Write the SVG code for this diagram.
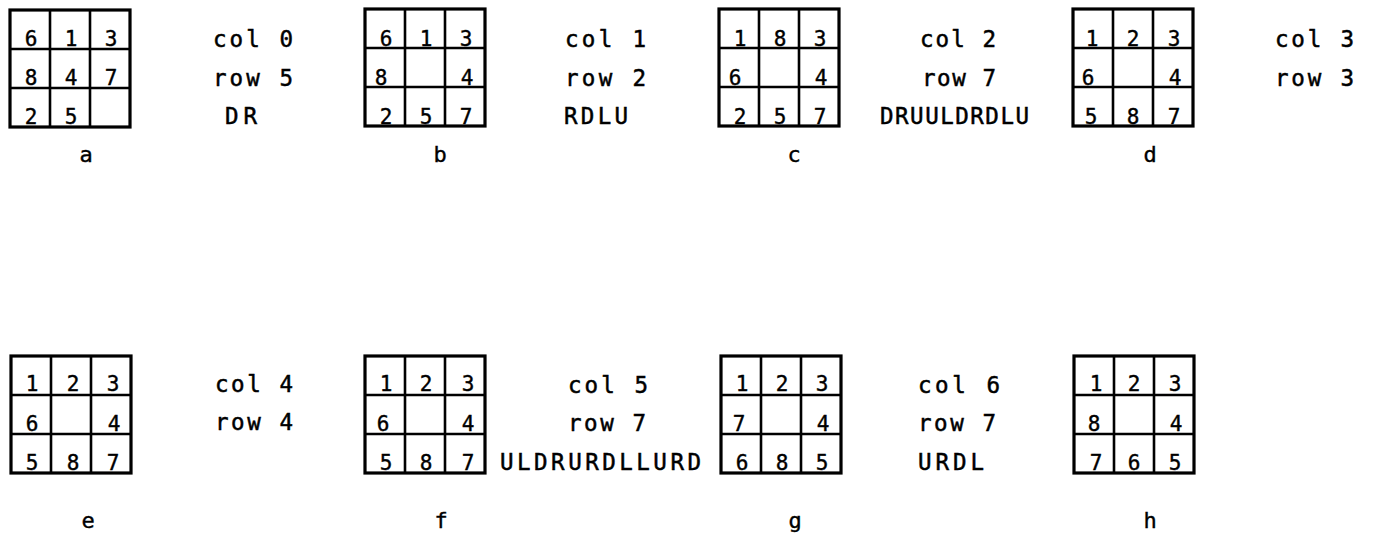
<svg xmlns="http://www.w3.org/2000/svg" xmlns:xlink="http://www.w3.org/1999/xlink" width="1373" height="543" viewBox="0 0 1373 543">
<style>
.frame{fill:none;stroke:#000;stroke-width:3.2}
.inner{stroke:#000;stroke-width:2.6}
.d{font-family:"DejaVu Sans Mono","Liberation Mono",monospace;font-size:21px;fill:#000;stroke:#000;stroke-width:0.4;text-anchor:middle}
.t{font-family:"DejaVu Sans Mono","Liberation Mono",monospace;font-size:22.5px;fill:#000;stroke:#000;stroke-width:0.5}
.l{font-family:"DejaVu Sans Mono","Liberation Mono",monospace;font-size:22px;fill:#000;stroke:#000;stroke-width:0.4;text-anchor:middle}
</style>
<defs>
<g id="grid">
<rect class="frame" x="0" y="0" width="120" height="117"/>
<line class="inner" x1="40" y1="0" x2="40" y2="117"/>
<line class="inner" x1="80" y1="0" x2="80" y2="117"/>
<line class="inner" x1="0" y1="39" x2="120" y2="39"/>
<line class="inner" x1="0" y1="78" x2="120" y2="78"/>
</g>
</defs>
<rect width="1373" height="543" fill="#fff"/>

<g id="node-a" transform="translate(10,10)">
<use xlink:href="#grid"/>
<text class="d" x="21" y="36">6</text><text class="d" x="61" y="36">1</text><text class="d" x="101" y="36">3</text>
<text class="d" x="21" y="75">8</text><text class="d" x="61" y="75">4</text><text class="d" x="101" y="75">7</text>
<text class="d" x="21" y="114">2</text><text class="d" x="61" y="114">5</text>
</g>
<g id="text-a">
<text class="t" x="213" y="47" textLength="80" lengthAdjust="spacing">col 0</text>
<text class="t" x="213" y="86" textLength="80" lengthAdjust="spacing">row 5</text>
<text class="t" x="225" y="124" textLength="32" lengthAdjust="spacing">DR</text>
<text class="l" x="86" y="162">a</text>
</g>

<g id="node-b" transform="translate(365,9)">
<use xlink:href="#grid"/>
<text class="d" x="21" y="37">6</text><text class="d" x="61" y="37">1</text><text class="d" x="101" y="37">3</text>
<text class="d" x="16" y="76">8</text><text class="d" x="102" y="76">4</text>
<text class="d" x="21" y="115">2</text><text class="d" x="61" y="115">5</text><text class="d" x="101" y="115">7</text>
</g>
<g id="text-b">
<text class="t" x="565" y="47" textLength="81" lengthAdjust="spacing">col 1</text>
<text class="t" x="565" y="86" textLength="81" lengthAdjust="spacing">row 2</text>
<text class="t" x="564" y="124" textLength="64" lengthAdjust="spacing">RDLU</text>
<text class="l" x="440" y="162">b</text>
</g>

<g id="node-c" transform="translate(719,9)">
<use xlink:href="#grid"/>
<text class="d" x="21" y="37">1</text><text class="d" x="61" y="37">8</text><text class="d" x="101" y="37">3</text>
<text class="d" x="16" y="76">6</text><text class="d" x="102" y="76">4</text>
<text class="d" x="21" y="115">2</text><text class="d" x="61" y="115">5</text><text class="d" x="101" y="115">7</text>
</g>
<g id="text-c">
<text class="t" x="920" y="47" textLength="76" lengthAdjust="spacing">col 2</text>
<text class="t" x="922" y="86" textLength="74" lengthAdjust="spacing">row 7</text>
<text class="t" x="880" y="124" textLength="149" lengthAdjust="spacing">DRUULDRDLU</text>
<text class="l" x="794" y="162">c</text>
</g>

<g id="node-d" transform="translate(1073,9)">
<use xlink:href="#grid"/>
<text class="d" x="19" y="37">1</text><text class="d" x="60" y="37">2</text><text class="d" x="101" y="37">3</text>
<text class="d" x="15" y="76">6</text><text class="d" x="102" y="76">4</text>
<text class="d" x="18" y="115">5</text><text class="d" x="60" y="115">8</text><text class="d" x="101" y="115">7</text>
</g>
<g id="text-d">
<text class="t" x="1275" y="47" textLength="79" lengthAdjust="spacing">col 3</text>
<text class="t" x="1275" y="86" textLength="79" lengthAdjust="spacing">row 3</text>
<text class="l" x="1150" y="162">d</text>
</g>

<g id="node-e" transform="translate(11,356)">
<use xlink:href="#grid"/>
<text class="d" x="21" y="35">1</text><text class="d" x="62" y="35">2</text><text class="d" x="102" y="35">3</text>
<text class="d" x="21" y="75">6</text><text class="d" x="103" y="75">4</text>
<text class="d" x="21" y="114">5</text><text class="d" x="62" y="114">8</text><text class="d" x="102" y="114">7</text>
</g>
<g id="text-e">
<text class="t" x="215" y="392" textLength="78" lengthAdjust="spacing">col 4</text>
<text class="t" x="215" y="430" textLength="78" lengthAdjust="spacing">row 4</text>
<text class="l" x="88" y="528">e</text>
</g>

<g id="node-f" transform="translate(365,356)">
<use xlink:href="#grid"/>
<text class="d" x="21" y="35">1</text><text class="d" x="61" y="35">2</text><text class="d" x="103" y="35">3</text>
<text class="d" x="18" y="75">6</text><text class="d" x="103" y="75">4</text>
<text class="d" x="21" y="114">5</text><text class="d" x="61" y="114">8</text><text class="d" x="103" y="114">7</text>
</g>
<g id="text-f">
<text class="t" x="568" y="393" textLength="80" lengthAdjust="spacing">col 5</text>
<text class="t" x="568" y="431" textLength="78" lengthAdjust="spacing">row 7</text>
<text class="t" x="500" y="470" textLength="201" lengthAdjust="spacing">ULDRURDLLURD</text>
<text class="l" x="441" y="528">f</text>
</g>

<g id="node-g" transform="translate(721,356)">
<use xlink:href="#grid"/>
<text class="d" x="21" y="35">1</text><text class="d" x="61" y="35">2</text><text class="d" x="101" y="35">3</text>
<text class="d" x="18" y="75">7</text><text class="d" x="102" y="75">4</text>
<text class="d" x="21" y="114">6</text><text class="d" x="61" y="114">8</text><text class="d" x="101" y="114">5</text>
</g>
<g id="text-g">
<text class="t" x="918" y="393" textLength="82" lengthAdjust="spacing">col 6</text>
<text class="t" x="918" y="431" textLength="78" lengthAdjust="spacing">row 7</text>
<text class="t" x="918" y="470" textLength="66" lengthAdjust="spacing">URDL</text>
<text class="l" x="795" y="528">g</text>
</g>

<g id="node-h" transform="translate(1074,356)">
<use xlink:href="#grid"/>
<text class="d" x="22" y="35">1</text><text class="d" x="60" y="35">2</text><text class="d" x="101" y="35">3</text>
<text class="d" x="20" y="75">8</text><text class="d" x="102" y="75">4</text>
<text class="d" x="22" y="114">7</text><text class="d" x="60" y="114">6</text><text class="d" x="101" y="114">5</text>
</g>
<g id="text-h">
<text class="l" x="1150" y="528">h</text>
</g>

<g id="connectors"></g>
</svg>
